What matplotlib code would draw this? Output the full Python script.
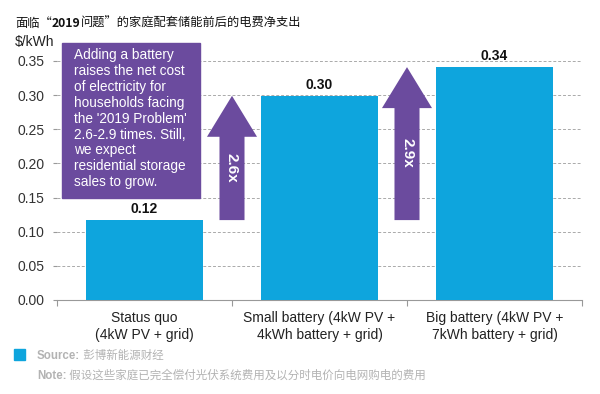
import matplotlib
matplotlib.use("Agg")
import matplotlib.pyplot as plt
from matplotlib.patches import Rectangle

plt.rcParams['font.family'] = ['Liberation Sans', 'Noto Sans CJK SC', 'DejaVu Sans']

# data
categories = ["Status quo\n(4kW PV + grid)",
              "Small battery (4kW PV +\n4kWh battery + grid)",
              "Big battery (4kW PV +\n7kWh battery + grid)"]
net_cost = [0.117, 0.299, 0.341]
value_labels = ["0.12", "0.30", "0.34"]
multipliers = ["2.6x", "2.9x"]
y_ticks = [0.00, 0.05, 0.10, 0.15, 0.20, 0.25, 0.30, 0.35]
box_lines = ["Adding a battery", "raises the net cost", "of electricity for",
             "households facing", "the '2019 Problem'", "2.6-2.9 times. Still,",
             "we expect", "residential storage", "sales to grow."]

blue = '#0ea5dd'
purple = '#6b4b9e'
grey = '#b3b3b3'

fig = plt.figure(figsize=(6, 3.94), dpi=100)
ax = fig.add_axes([0.095, 0.2386, 0.875, 0.6586])

x = list(range(len(categories)))
ax.bar(x, net_cost, width=0.67, color=blue, zorder=3)
for xi, v, lab in zip(x, net_cost, value_labels):
    ax.annotate(lab, (xi, v), xytext=(0, 3), textcoords='offset points',
                ha='center', va='bottom', fontsize=10, fontweight='bold', color='#111111')

# arrows between bars
for i, m in enumerate(multipliers):
    xa = i + 0.5
    bottom = net_cost[0]
    top = net_cost[i + 1]
    ax.arrow(xa, bottom, 0, top - bottom, width=0.143, head_width=0.286,
             head_length=0.06, length_includes_head=True, color=purple,
             zorder=4, linewidth=0)
ax.text(0.5, 0.194, multipliers[0], rotation=-90, ha='center', va='center',
        color='white', fontsize=11, fontweight='bold', zorder=5)
ax.text(1.5, 0.215, multipliers[1], rotation=-90, ha='center', va='center',
        color='white', fontsize=11, fontweight='bold', zorder=5)

# text box
ax.add_patch(Rectangle((-0.471, 0.149), 0.788, 0.227, color=purple, zorder=6,
                       clip_on=False))
for i, line in enumerate(box_lines):
    ax.text(-0.40, 0.3587 - i * 0.02328, line, ha='left', va='center',
            color='white', fontsize=9.8, zorder=7)

ax.set_xlim(-0.5, 2.5)
ax.set_ylim(0, 0.38)
ax.set_yticks(y_ticks)
ax.set_yticklabels([f"{t:.2f}" for t in y_ticks])
ax.yaxis.grid(True, linestyle=(0, (3, 2)), color='#aaaaaa', linewidth=0.7, zorder=0)
ax.tick_params(axis='y', length=3, color='#999999', labelsize=10, labelcolor='#333333', pad=6)

ax.set_xticks([-0.5, 0.5, 1.5, 2.5])
ax.set_xticklabels([])
ax.set_xticks(x, minor=True)
ax.set_xticklabels(categories, minor=True, fontsize=10, color='#222222', linespacing=1.3)
ax.tick_params(axis='x', which='major', length=4, color='#999999')
ax.tick_params(axis='x', which='minor', length=0, pad=8)

for s in ['top', 'right', 'left']:
    ax.spines[s].set_visible(False)
ax.spines['bottom'].set_color('#999999')

# title with bold year
fig.canvas.draw()
renderer = fig.canvas.get_renderer()
title_parts = [("面临“", 'normal'), ("2019", 'bold'), ("问题”的家庭配套储能前后的电费净支出", 'normal')]
xpos = 15
for txt, w in title_parts:
    t = fig.text(xpos / 600, 1 - 27 / 394, txt, fontsize=8.8, fontweight=w,
                 va='baseline', ha='left', color='#111111',
                 family=['Noto Sans CJK SC', 'Liberation Sans'])
    xpos = t.get_window_extent(renderer).x1

fig.text(15 / 600, 1 - 42 / 394, "\\$/kWh", fontsize=10, va='center', ha='left', color='#222222')

# footer
fig.patches.append(Rectangle((14 / 600, 1 - 360 / 394), 11 / 600, 11 / 394,
                             transform=fig.transFigure, color=blue, figure=fig))
for label, body, yp in [("Source:", " 彭博新能源财经", 356),
                        ("Note:", " 假设这些家庭已完全偿付光伏系统费用及以分时电价向电网购电的费用", 376)]:
    t = fig.text(37 / 600, 1 - yp / 394, label, fontsize=8.3, fontweight='bold',
                 color=grey, va='center', ha='left')
    x1 = t.get_window_extent(renderer).x1
    fig.text(x1 / 600, 1 - yp / 394, body, fontsize=8.3, color=grey,
             va='center', ha='left')

fig.savefig("out.png", dpi=100, facecolor='white')
